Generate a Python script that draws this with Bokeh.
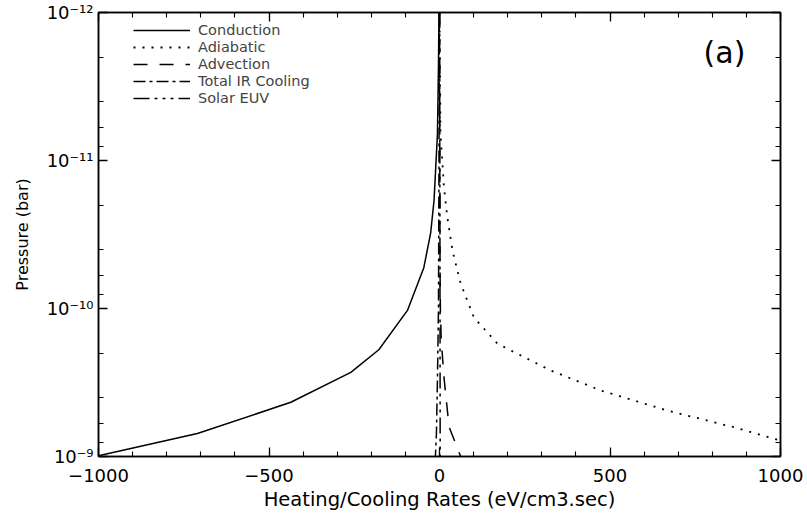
from bokeh.plotting import figure
from bokeh.models import (Range1d, LinearAxis, LogAxis, SingleIntervalTicker, LogTicker,
                          CustomJSTickFormatter, Legend, LegendItem, Label)
from bokeh.embed import file_html
from bokeh.resources import INLINE

# ---- data ----
cond_x = [-1000, -710, -436, -260, -178, -94, -46, -26, -16, -11, -6, -3, -1.6]
cond_p = [9.9e-10, 7.0e-10, 4.3e-10, 2.7e-10, 1.9e-10, 1.03e-10, 5.3e-11, 3.1e-11,
          1.86e-11, 1.11e-11, 6.6e-12, 2.3e-12, 1.0e-12]

adia_x = [0, 3, 13, 23, 38, 62, 101, 170, 326, 473, 668, 863, 1000]
adia_p = [1.0e-12, 6.6e-12, 1.51e-11, 2.42e-11, 4.06e-11, 6.78e-11, 1.15e-10,
          1.73e-10, 2.62e-10, 3.58e-10, 4.89e-10, 6.34e-10, 7.8e-10]

adv_x = [0.3, 0.8, 1.5, 2.5, 5, 13, 28, 62]
adv_p = [1.0e-12, 1.0e-11, 5.0e-11, 1.0e-10, 1.6e-10, 2.9e-10, 6.3e-10, 1.0e-9]

ir_x = [-0.5, -1.5, -3, -6, -9, -12]
ir_p = [1.0e-12, 1.0e-11, 1.0e-10, 3.0e-10, 7.0e-10, 1.0e-9]

euv_x = [0.5, 1.0, 1.5, 2.0]
euv_p = [1.0e-12, 1.0e-11, 1.0e-10, 1.0e-9]

labels = ["Conduction", "Adiabatic", "Advection", "Total IR Cooling", "Solar EUV"]
x_label = "Heating/Cooling Rates (eV/cm3.sec)"
y_label = "Pressure (bar)"
panel_tag = "(a)"

FONT = "DejaVu Sans"

p = figure(width=807, height=523, output_backend="svg", toolbar_location=None,
           y_axis_type="log", x_range=Range1d(-1000, 1000), y_range=Range1d(1e-9, 1e-12),
           min_border_left=98, min_border_right=27, min_border_top=12, min_border_bottom=67)
p.xgrid.visible = False
p.ygrid.visible = False
p.outline_line_color = "black"
p.outline_line_width = 1.5
p.background_fill_color = "white"
p.border_fill_color = "white"

x_fmt = CustomJSTickFormatter(code="return tick < 0 ? '\u2212' + (-tick) : '' + tick;")
y_fmt = CustomJSTickFormatter(code="""
const e = Math.round(Math.log10(tick));
const m = {'-':'\u207b','0':'\u2070','1':'\u00b9','2':'\u00b2','3':'\u00b3','4':'\u2074',
           '5':'\u2075','6':'\u2076','7':'\u2077','8':'\u2078','9':'\u2079'};
return '10' + String(e).split('').map(c => m[c]).join('');
""")

def style_axis(ax, show_labels):
    ax.axis_line_color = "black"
    ax.axis_line_width = 1.5
    ax.major_tick_in = 9
    ax.major_tick_out = 0
    ax.minor_tick_in = 5
    ax.minor_tick_out = 0
    ax.major_tick_line_color = "black"
    ax.minor_tick_line_color = "black"
    ax.major_tick_line_width = 1.3
    ax.minor_tick_line_width = 1.1
    ax.major_label_text_font = FONT
    ax.axis_label_text_font = FONT
    ax.axis_label_text_font_style = "normal"
    ax.major_label_text_color = "black"
    ax.axis_label_text_color = "black"
    if not show_labels:
        ax.major_label_text_font_size = "1px"
        ax.major_label_text_alpha = 0
        ax.major_label_standoff = 0

xt = SingleIntervalTicker(interval=500, num_minor_ticks=5)
xa = p.xaxis[0]
xa.ticker = xt
xa.formatter = x_fmt
style_axis(xa, True)
xa.major_label_text_font_size = "18px"
xa.major_label_standoff = 12
xa.axis_label = x_label
xa.axis_label_text_font_size = "19.5px"
xa.axis_label_standoff = 3

ya = p.yaxis[0]
ya.ticker = LogTicker(desired_num_ticks=4)
ya.formatter = y_fmt
style_axis(ya, True)
ya.major_label_text_font_size = "18px"
ya.major_label_standoff = 5
ya.axis_label = y_label
ya.axis_label_text_font_size = "16px"
ya.axis_label_standoff = 12

top = LinearAxis(ticker=SingleIntervalTicker(interval=500, num_minor_ticks=5))
style_axis(top, False)
p.add_layout(top, "above")
right = LogAxis(ticker=LogTicker(desired_num_ticks=4))
style_axis(right, False)
p.add_layout(right, "right")

r1 = p.line(cond_x, cond_p, line_color="black", line_width=1.5)
r2 = p.line(adia_x, adia_p, line_color="black", line_width=1.8, line_dash="2 7")
r3 = p.line(adv_x, adv_p, line_color="black", line_width=1.5, line_dash="14 12")
r4 = p.line(ir_x, ir_p, line_color="black", line_width=1.5, line_dash="12 4 3 4")
r5 = p.line(euv_x, euv_p, line_color="black", line_width=1.5, line_dash="16 5 3 5 3 5 3 5")

legend = Legend(items=[LegendItem(label=l, renderers=[r]) for l, r in zip(labels, [r1, r2, r3, r4, r5])],
                location=(25, 340), glyph_width=57, glyph_height=16, label_height=16,
                label_standoff=8, spacing=1, padding=10, margin=0,
                label_text_font=FONT, label_text_font_size="14.5px",
                background_fill_alpha=0, border_line_alpha=0)
p.add_layout(legend, "center")

p.add_layout(Label(x=626, y=404, x_units="screen", y_units="screen", text=panel_tag,
                   text_font=FONT, text_font_size="30px", text_align="center",
                   text_baseline="middle", text_color="black"))

open("out.html", "w").write(file_html(p, INLINE))
